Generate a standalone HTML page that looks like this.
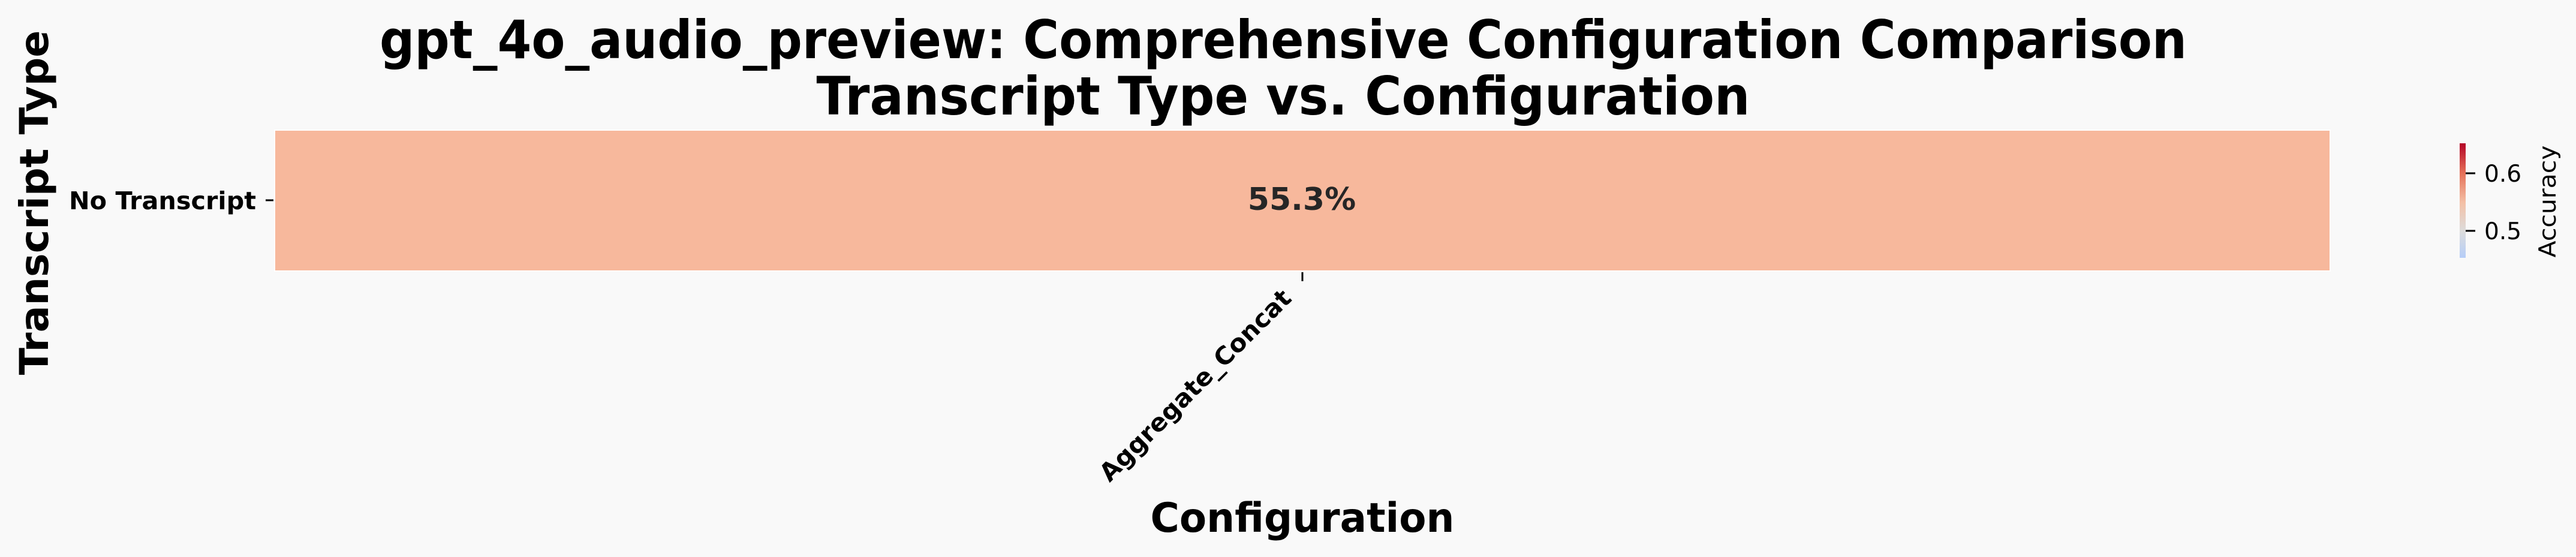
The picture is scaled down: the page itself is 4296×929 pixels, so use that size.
<!DOCTYPE html>
<html><head><meta charset="utf-8"><style>
html,body{margin:0;padding:0;background:#f9f9f9;}
svg{display:block;}
text{font-family:"DejaVu Sans","Liberation Sans",sans-serif;font-weight:bold;}
</style></head><body>
<svg width="4296" height="929" viewBox="0 0 4296 929" xmlns="http://www.w3.org/2000/svg">
<defs>
<linearGradient id="cw" x1="0" y1="1" x2="0" y2="0">
<stop offset="0" stop-color="#b5cdf8"/>
<stop offset="0.23" stop-color="#dcdcdc"/>
<stop offset="0.48" stop-color="#f4c0a6"/>
<stop offset="0.74" stop-color="#e57058"/>
<stop offset="1" stop-color="#b40426"/>
</linearGradient>
</defs>
<rect width="4296" height="929" fill="#f9f9f9"/>
<text x="2140" y="97" font-size="88" text-anchor="middle" textLength="3014" lengthAdjust="spacingAndGlyphs">gpt_4o_audio_preview: Comprehensive Configuration Comparison</text>
<text x="2140" y="191" font-size="88" text-anchor="middle" textLength="1557" lengthAdjust="spacingAndGlyphs">Transcript Type vs. Configuration</text>
<rect x="458" y="217" width="3428" height="235" fill="#f7b89c" stroke="#ffffff" stroke-width="2"/>
<text x="2171" y="350" font-size="52" text-anchor="middle" fill="#262626">55.3%</text>
<line x1="443" y1="334" x2="456" y2="334" stroke="#000" stroke-width="3"/>
<text x="427" y="349" font-size="41" text-anchor="end" textLength="312" lengthAdjust="spacingAndGlyphs">No Transcript</text>
<line x1="2172" y1="454" x2="2172" y2="469" stroke="#000" stroke-width="3"/>
<text transform="translate(2156,500) rotate(-45)" font-size="41" text-anchor="end" textLength="432" lengthAdjust="spacingAndGlyphs">Aggregate_Concat</text>
<text x="2172" y="887" font-size="68" text-anchor="middle" textLength="507" lengthAdjust="spacingAndGlyphs">Configuration</text>
<text transform="translate(80,338) rotate(-90)" font-size="66" text-anchor="middle" textLength="575" lengthAdjust="spacingAndGlyphs">Transcript Type</text>
<rect x="4102" y="239" width="10" height="191" fill="url(#cw)"/>
<line x1="4112" y1="289" x2="4128" y2="289" stroke="#000" stroke-width="3"/>
<line x1="4112" y1="385" x2="4128" y2="385" stroke="#000" stroke-width="3"/>
<text x="4143" y="303" font-size="39" style="font-weight:normal">0.6</text>
<text x="4143" y="399" font-size="39" style="font-weight:normal">0.5</text>
<text transform="translate(4262,336) rotate(-90)" font-size="39" text-anchor="middle" style="font-weight:normal" textLength="187" lengthAdjust="spacingAndGlyphs">Accuracy</text>
</svg>
</body></html>
